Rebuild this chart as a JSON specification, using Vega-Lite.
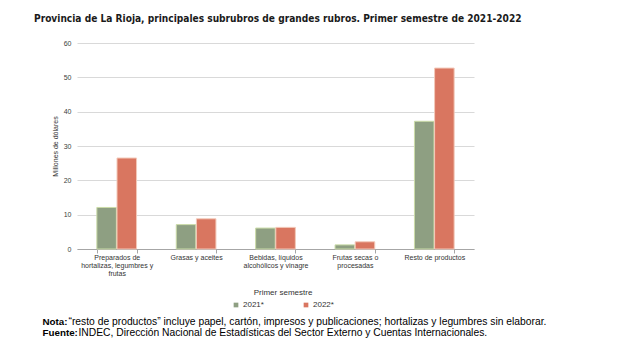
{
  "$schema": "https://vega.github.io/schema/vega-lite/v6.json",
  "autosize": "none",
  "width": 397,
  "height": 206,
  "padding": {"left": 77, "top": 43, "right": 153, "bottom": 106},
  "background": "white",
  "title": {
    "text": "Provincia de La Rioja, principales subrubros de grandes rubros. Primer semestre de 2021-2022",
    "anchor": "start",
    "frame": "group",
    "dx": -43,
    "offset": 15,
    "font": "'DejaVu Sans Condensed', 'Roboto Condensed', Roboto, sans-serif",
    "fontSize": 10.1,
    "fontWeight": "bold",
    "color": "#1a1a1a"
  },
  "config": {
    "font": "Liberation Sans",
    "view": {"stroke": null},
    "axis": {"labelFont": "Liberation Sans", "titleFont": "Liberation Sans"}
  },
  "data": {
    "values": [
      {"categoria": "Preparados de hortalizas, legumbres y frutas", "anio": "2021*", "valor": 12.1},
      {"categoria": "Preparados de hortalizas, legumbres y frutas", "anio": "2022*", "valor": 26.5},
      {"categoria": "Grasas y aceites", "anio": "2021*", "valor": 7.1},
      {"categoria": "Grasas y aceites", "anio": "2022*", "valor": 8.8},
      {"categoria": "Bebidas, líquidos alcohólicos y vinagre", "anio": "2021*", "valor": 6.1},
      {"categoria": "Bebidas, líquidos alcohólicos y vinagre", "anio": "2022*", "valor": 6.3},
      {"categoria": "Frutas secas o procesadas", "anio": "2021*", "valor": 1.2},
      {"categoria": "Frutas secas o procesadas", "anio": "2022*", "valor": 2.1},
      {"categoria": "Resto de productos", "anio": "2021*", "valor": 37.2},
      {"categoria": "Resto de productos", "anio": "2022*", "valor": 52.7}
    ]
  },
  "resolve": {"axis": {"x": "independent", "y": "independent"}},
  "layer": [
    {
      "mark": {"type": "bar", "strokeWidth": 1},
      "encoding": {
        "x": {
          "field": "categoria",
          "type": "nominal",
          "sort": null,
          "scale": {"paddingInner": 0.5, "paddingOuter": 0.25},
          "axis": {
            "orient": "bottom",
            "labelAngle": 0,
            "labelFontSize": 7,
            "labelColor": "#333333",
            "labelLineHeight": 8.3,
            "labelBaseline": "top",
            "labelPadding": 0,
            "labelExpr": "datum.label == 'Preparados de hortalizas, legumbres y frutas' ? ['Preparados de', 'hortalizas, legumbres y', 'frutas'] : datum.label == 'Bebidas, líquidos alcohólicos y vinagre' ? ['Bebidas, líquidos', 'alcohólicos y vinagre'] : datum.label == 'Frutas secas o procesadas' ? ['Frutas secas o', 'procesadas'] : datum.label",
            "tickBand": "extent",
            "tickSize": 4,
            "tickColor": "#a6a6a6",
            "domainColor": "#a6a6a6",
            "grid": false,
            "title": "“resto de productos” incluye papel, cartón, impresos y publicaciones; hortalizas y legumbres sin elaborar.",
            "titleFontSize": 10.3,
            "titleFontWeight": "normal",
            "titleColor": "#000000",
            "titleAlign": "left",
            "titleAnchor": "start",
            "titleBaseline": "alphabetic",
            "titleX": -9,
            "titleY": 75.5
          }
        },
        "xOffset": {"field": "anio", "type": "nominal", "scale": {"paddingInner": 0.03}},
        "y": {
          "field": "valor",
          "type": "quantitative",
          "scale": {"domain": [0, 60], "nice": false},
          "axis": {
            "orient": "left",
            "values": [0, 10, 20, 30, 40, 50, 60],
            "domain": false,
            "ticks": false,
            "grid": true,
            "gridColor": "#d9d9d9",
            "gridWidth": 1.2,
            "labelFontSize": 7,
            "labelColor": "#404040",
            "labelPadding": 6,
            "title": "Millones de dólares",
            "titleFontSize": 7,
            "titleFontWeight": "normal",
            "titleColor": "#333333",
            "titlePadding": 5
          }
        },
        "color": {
          "field": "anio",
          "type": "nominal",
          "scale": {"domain": ["2021*", "2022*"], "range": ["#8e9f82", "#d97660"]},
          "legend": {
            "orient": "none",
            "legendX": 155,
            "legendY": 246,
            "direction": "horizontal",
            "title": "Primer semestre",
            "titleAnchor": "middle",
            "titleFontSize": 8,
            "titleFontWeight": "normal",
            "titleColor": "#333333",
            "titlePadding": 4,
            "labelFontSize": 8,
            "labelColor": "#333333",
            "labelOffset": 3,
            "symbolType": "square",
            "symbolSize": 22,
            "symbolStrokeWidth": 0,
            "columnPadding": 38
          }
        },
        "stroke": {
          "condition": {"test": "datum.anio == '2021*'", "value": "#cbdca8"},
          "value": "#f3c9b9"
        }
      }
    },
    {
      "mark": {"type": "point", "opacity": 0},
      "encoding": {
        "x": {
          "field": "categoria",
          "type": "nominal",
          "sort": null,
          "axis": {
            "orient": "top",
            "labels": false,
            "ticks": false,
            "domain": false,
            "grid": false,
            "title": ["Nota:", "Fuente:"],
            "titleFontSize": 9.8,
            "titleFontWeight": "bold",
            "titleColor": "#000000",
            "titleAlign": "left",
            "titleAnchor": "start",
            "titleBaseline": "alphabetic",
            "titleLineHeight": 10.6,
            "titleX": -35,
            "titleY": 281.5
          }
        },
        "y": {
          "field": "valor",
          "type": "quantitative",
          "axis": {
            "orient": "right",
            "labels": false,
            "ticks": false,
            "domain": false,
            "grid": false,
            "title": "INDEC, Dirección Nacional de Estadísticas del Sector Externo y Cuentas Internacionales.",
            "titleAngle": 0,
            "titleFontSize": 10.3,
            "titleFontWeight": "normal",
            "titleColor": "#000000",
            "titleAlign": "left",
            "titleAnchor": "start",
            "titleBaseline": "alphabetic",
            "titleX": -396,
            "titleY": 292.1
          }
        }
      }
    }
  ]
}
